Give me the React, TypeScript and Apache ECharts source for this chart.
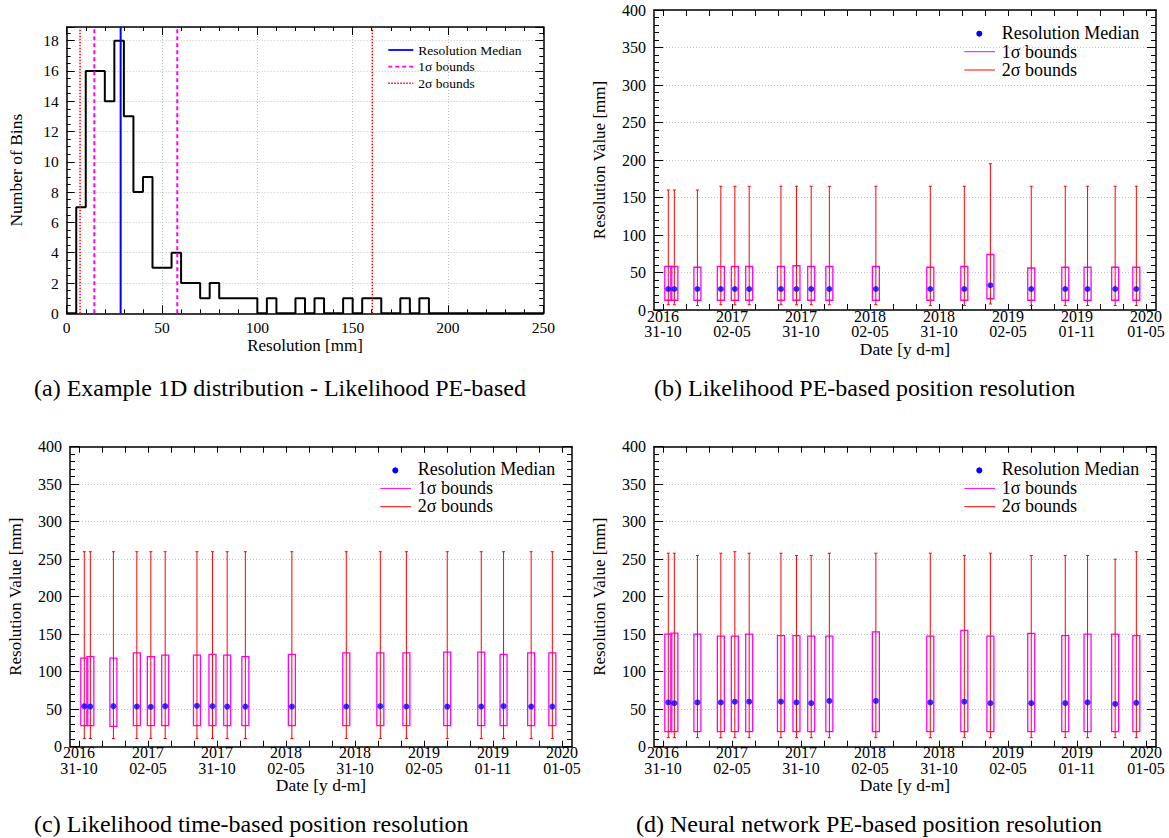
import React, { useEffect, useRef } from 'react';
import * as echarts from 'echarts';

const FONT = "'Liberation Serif', 'Times New Roman', Times, serif";

// ---------- Panel (a): 1D distribution ----------
const binWidth = 5;
const binCounts = [
  0, 7, 16, 16, 14, 18, 13, 8, 9, 3,
  3, 4, 2, 2, 1, 2, 1, 1, 1, 1,
  0, 1, 0, 0, 1, 0, 1, 0, 0, 1,
  0, 1, 1, 0, 0, 1, 0, 1, 0, 0,
  0, 0, 0, 0, 0, 0, 0, 0, 0, 0,
];
const markerNames = ['2σ bounds', '1σ bounds', 'Resolution Median', '1σ bounds', '2σ bounds'];
const markerValues = [7, 14.5, 28.3, 58, 160.3];
const legendANames = ['Resolution Median', '1σ bounds', '2σ bounds'];

// ---------- Panels (b)-(d): time series ----------
const measDates = [
  '2016-11-14', '2016-11-30', '2017-01-30', '2017-04-02', '2017-05-09', '2017-06-16',
  '2017-09-08', '2017-10-19', '2017-11-27', '2018-01-14', '2018-05-17', '2018-10-08',
  '2019-01-06', '2019-03-16', '2019-07-02', '2019-09-30', '2019-11-28', '2020-02-09', '2020-04-05',
];
const dateTickLabels = [
  '2016\n31-10', '2017\n02-05', '2017\n31-10', '2018\n02-05',
  '2018\n31-10', '2019\n02-05', '2019\n01-11', '2020\n01-05',
];

// (b) Likelihood PE-based
const bMedian = [28, 28, 28, 28, 28, 28, 28, 28, 28, 28, 28, 28, 28, 33, 28, 28, 28, 28, 28];
const bSig1Lo = [13, 13, 13, 13, 13, 13, 13, 13, 13, 13, 13, 13, 13, 15, 13, 13, 13, 13, 13];
const bSig1Hi = [58, 58, 57, 58, 58, 58, 58, 59, 58, 58, 58, 57, 58, 74, 56, 57, 57, 57, 57];
const bSig2Lo = [7, 7, 6, 7, 7, 7, 7, 7, 7, 7, 7, 6, 6, 8, 6, 6, 6, 6, 6];
const bSig2Hi = [160, 160, 160, 165, 165, 165, 165, 165, 165, 165, 165, 165, 165, 195, 165, 165, 165, 165, 165];

// (c) Likelihood time-based
const cMedian = [54, 53.5, 54, 53.5, 53, 54, 54.5, 54, 53.5, 53.5, 53.5, 53.5, 54, 53.5, 53.5, 53.5, 54, 53.5, 53.5];
const cSig1Lo = [28, 28, 27, 28, 28, 28, 28, 28, 28, 28, 28, 28, 28, 28, 28, 28, 28, 28, 28];
const cSig1Hi = [118, 120, 118, 125, 120, 122, 122, 123, 122, 120, 123, 125, 125, 125, 126, 126, 123, 125, 125];
const cSig2Lo = [11, 11, 11, 11, 11, 11, 11, 11, 11, 11, 11, 11, 11, 11, 11, 11, 11, 11, 11];
const cSig2Hi = [260, 260, 260, 260, 260, 260, 260, 260, 260, 260, 260, 260, 260, 260, 260, 260, 260, 260, 260];

// (d) Neural network PE-based
const dMedian = [59, 58, 59, 59, 60, 60, 60, 59, 58, 61, 61, 59, 60, 58, 58, 58, 59, 57, 58.5];
const dSig1Lo = [20, 20, 20, 20, 20, 20, 20, 20, 20, 20, 20, 20, 20, 20, 20, 20, 20, 20, 20];
const dSig1Hi = [150, 151.5, 150, 147.5, 147.5, 150, 148, 148, 147.5, 147.5, 153, 147.5, 155, 147.5, 151, 148, 150, 150, 148];
const dSig2Lo = [12, 12, 12, 12, 12, 12, 12, 12, 12, 12, 12, 12, 12, 12, 12, 12, 12, 12, 12];
const dSig2Hi = [258, 258, 255, 258, 260, 258, 258, 255, 255, 258, 258, 258, 255, 258, 255, 255, 255, 250, 260];

const captions = [
  '(a) Example 1D distribution - Likelihood PE-based',
  '(b) Likelihood PE-based position resolution',
  '(c) Likelihood time-based position resolution',
  '(d) Neural network PE-based position resolution',
];

// ---------- helpers ----------
const DAY = 86400000;
const T0 = Date.UTC(2016, 9, 31);
const HALF = 182.5 * DAY;
const X_MIN = T0 - 23.8 * DAY;
const X_MAX = T0 + 1304 * DAY;
const parseDate = (s: string) => {
  const [y, m, d] = s.split('-').map(Number);
  return Date.UTC(y, m - 1, d);
};
const labelTs = dateTickLabels.map((_, k) => T0 + k * HALF);
const tickTs: number[] = [];
for (let t = T0; t <= X_MAX; t += HALF / 3) tickTs.push(t);

const GRIDS = [
  { left: 66.7, top: 27, width: 476.6, height: 286.3 },
  { left: 654, top: 10, width: 502, height: 300 },
  { left: 70, top: 446.7, width: 502, height: 300 },
  { left: 654, top: 446.7, width: 502, height: 300 },
];

const BLACK = '#000';
const GRIDLINE = { show: true, lineStyle: { type: [1, 2] as any, color: '#c4c4c4', width: 1 } };

function buildOption() {
  const xAxis: any[] = [];
  const yAxis: any[] = [];
  const series: any[] = [];
  const graphic: any[] = [];

  // ----- panel (a) axes -----
  const axLine = { show: true, onZero: false, lineStyle: { color: BLACK, width: 1.5 } };
  const aX = {
    type: 'value', gridIndex: 0, min: 0, max: 250, interval: 50,
    axisLine: axLine,
    axisTick: { show: true, inside: true, length: 8, lineStyle: { color: BLACK } },
    minorTick: { show: true, splitNumber: 5, length: 4, lineStyle: { color: BLACK } },
  };
  xAxis.push({
    ...aX, position: 'bottom',
    name: 'Resolution [mm]', nameLocation: 'middle', nameGap: 24, nameMoveOverlap: false,
    nameTextStyle: { fontFamily: FONT, fontSize: 17, color: BLACK },
    axisLabel: { show: true, margin: 6, fontFamily: FONT, fontSize: 15.5, color: BLACK },
    splitLine: GRIDLINE,
  });
  xAxis.push({ ...aX, position: 'top', axisLabel: { show: false }, splitLine: { show: false } });
  const aY = {
    type: 'value', gridIndex: 0, min: 0, max: 18.9, interval: 2,
    axisLine: axLine,
    axisTick: { show: true, inside: true, length: 8, lineStyle: { color: BLACK } },
    minorTick: { show: true, splitNumber: 4, length: 4, lineStyle: { color: BLACK } },
  };
  yAxis.push({
    ...aY, position: 'left',
    name: 'Number of Bins', nameLocation: 'middle', nameGap: 42, nameRotate: 90, nameMoveOverlap: false,
    nameTextStyle: { fontFamily: FONT, fontSize: 17.5, color: BLACK },
    axisLabel: { show: true, margin: 8, showMaxLabel: false, fontFamily: FONT, fontSize: 15.5, color: BLACK },
    splitLine: GRIDLINE,
  });
  yAxis.push({ ...aY, position: 'right', axisLabel: { show: false }, splitLine: { show: false } });

  // ----- panel (a) series -----
  const histData: number[][] = binCounts.map((c, i) => [i * binWidth, c]);
  histData.push([binCounts.length * binWidth, 0]);
  series.push({
    type: 'line', name: 'Histogram', xAxisIndex: 0, yAxisIndex: 0, step: 'end',
    data: histData, symbol: 'none', lineStyle: { color: BLACK, width: 2 }, z: 3,
  });
  const markerStyle: Record<string, any> = {
    'Resolution Median': { color: '#0000ff', width: 2, type: 'solid' },
    '1σ bounds': { color: '#ff00ff', width: 2, type: [4, 3] },
    '2σ bounds': { color: '#ff0000', width: 1.5, type: [1.5, 1.5] },
  };
  markerValues.forEach((v, i) => {
    series.push({
      type: 'line', name: markerNames[i], xAxisIndex: 0, yAxisIndex: 0,
      data: [[v, 0], [v, 18.9]], symbol: 'none', lineStyle: markerStyle[markerNames[i]], z: 4,
    });
  });
  // legend (a)
  {
    const g = GRIDS[0];
    const rows = [23, 39.7, 56.3];
    legendANames.forEach((n, i) => {
      const st = markerStyle[n];
      graphic.push({
        type: 'line', shape: { x1: g.left + 321.6, y1: g.top + rows[i], x2: g.left + 346.6, y2: g.top + rows[i] },
        style: { stroke: st.color, lineWidth: st.width === 2 ? 1.8 : 1.5, lineDash: st.type === 'solid' ? null : st.type },
      });
      graphic.push({
        type: 'text', x: g.left + 351.6, y: g.top + rows[i],
        style: { text: n, fontFamily: FONT, fontSize: 13.5, fill: BLACK, align: 'left', verticalAlign: 'middle' },
      });
    });
  }

  // ----- panels (b)-(d) -----
  const panels = [
    { med: bMedian, s1l: bSig1Lo, s1h: bSig1Hi, s2l: bSig2Lo, s2h: bSig2Hi },
    { med: cMedian, s1l: cSig1Lo, s1h: cSig1Hi, s2l: cSig2Lo, s2h: cSig2Hi },
    { med: dMedian, s1l: dSig1Lo, s1h: dSig1Hi, s2l: dSig2Lo, s2h: dSig2Hi },
  ];
  const ts = measDates.map(parseDate);
  const fmt = (v: number) => {
    const k = Math.round((v - T0) / HALF);
    return dateTickLabels[k] ?? '';
  };

  panels.forEach((p, pi) => {
    const gi = pi + 1;
    const xi = xAxis.length;
    const yi = yAxis.length;
    const bx = {
      type: 'value', gridIndex: gi, min: X_MIN, max: X_MAX,
      axisLine: axLine,
      axisTick: { show: true, inside: true, length: 6, customValues: tickTs, lineStyle: { color: BLACK } },
      splitLine: { show: false },
    };
    xAxis.push({
      ...bx, position: 'bottom',
      name: 'Date [y d-m]', nameLocation: 'middle', nameGap: 30, nameMoveOverlap: false,
      nameTextStyle: { fontFamily: FONT, fontSize: 17.5, color: BLACK, lineHeight: 17 },
      axisLabel: {
        show: true, customValues: labelTs, formatter: fmt, margin: -1.5,
        fontFamily: FONT, fontSize: 16, lineHeight: 15.5, color: BLACK,
      },
    });
    xAxis.push({ ...bx, position: 'top', axisLabel: { show: false } });
    const by = {
      type: 'value', gridIndex: gi, min: 0, max: 400, interval: 50,
      axisLine: axLine,
      axisTick: { show: true, inside: true, length: 9, lineStyle: { color: BLACK } },
      minorTick: { show: true, splitNumber: 5, length: 5, lineStyle: { color: BLACK } },
    };
    yAxis.push({
      ...by, position: 'left',
      name: 'Resolution Value [mm]', nameLocation: 'middle', nameGap: 46, nameRotate: 90, nameMoveOverlap: false,
      nameTextStyle: { fontFamily: FONT, fontSize: 17, color: BLACK },
      axisLabel: { show: true, margin: 8, fontFamily: FONT, fontSize: 16, color: BLACK },
      splitLine: GRIDLINE,
    });
    yAxis.push({ ...by, position: 'right', axisLabel: { show: false }, splitLine: { show: false } });

    series.push({
      type: 'custom', name: '1σ bounds', xAxisIndex: xi, yAxisIndex: yi, clip: true, z: 2,
      itemStyle: { color: '#ff00ff' },
      data: ts.map((t, i) => [t, p.s1l[i], p.s1h[i]]),
      encode: { x: 0, y: [1, 2] },
      renderItem: (_params: any, api: any) => {
        const t = api.value(0);
        const lo = api.coord([t, api.value(1)]);
        const hi = api.coord([t, api.value(2)]);
        const hw = 3.5;
        return {
          type: 'rect',
          shape: { x: lo[0] - hw, y: hi[1], width: 2 * hw, height: lo[1] - hi[1] },
          style: { fill: 'none', stroke: '#ff00ff', lineWidth: 1.3 },
        };
      },
    });
    series.push({
      type: 'custom', name: '2σ bounds', xAxisIndex: xi, yAxisIndex: yi, clip: true, z: 3,
      itemStyle: { color: '#ff0000' },
      data: ts.map((t, i) => [t, p.s2l[i], p.s2h[i]]),
      encode: { x: 0, y: [1, 2] },
      renderItem: (_params: any, api: any) => {
        const t = api.value(0);
        const lo = api.coord([t, api.value(1)]);
        const hi = api.coord([t, api.value(2)]);
        const x = lo[0];
        const cap = 1.5;
        const st = { stroke: '#ff0000', lineWidth: 1 };
        return {
          type: 'group',
          children: [
            { type: 'line', shape: { x1: x, y1: lo[1], x2: x, y2: hi[1] }, style: st },
            { type: 'line', shape: { x1: x - cap, y1: lo[1], x2: x + cap, y2: lo[1] }, style: st },
            { type: 'line', shape: { x1: x - cap, y1: hi[1], x2: x + cap, y2: hi[1] }, style: st },
          ],
        };
      },
    });
    series.push({
      type: 'scatter', name: 'Resolution Median', xAxisIndex: xi, yAxisIndex: yi, z: 5,
      symbol: 'circle', symbolSize: 6, itemStyle: { color: '#0000ff' },
      data: ts.map((t, i) => [t, p.med[i]]),
    });

    // legend
    const g = GRIDS[gi];
    const rows = [22.5, 41.5, 59.7];
    graphic.push({
      type: 'circle', shape: { cx: g.left + 325.3, cy: g.top + 23.7, r: 3 }, style: { fill: '#0000ff' },
    });
    graphic.push({
      type: 'line', shape: { x1: g.left + 310.3, y1: g.top + 41.7, x2: g.left + 341, y2: g.top + 41.7 },
      style: { stroke: '#ff00ff', lineWidth: 1 },
    });
    graphic.push({
      type: 'line', shape: { x1: g.left + 310.3, y1: g.top + 60, x2: g.left + 341, y2: g.top + 60 },
      style: { stroke: '#ff0000', lineWidth: 1 },
    });
    legendANames.forEach((n, i) => {
      graphic.push({
        type: 'text', x: g.left + 347.7, y: g.top + rows[i],
        style: { text: n, fontFamily: FONT, fontSize: 18, fill: BLACK, align: 'left', verticalAlign: 'middle' },
      });
    });
  });

  // captions
  const capPos = [[34, 388], [654, 388], [34, 824], [636, 824]];
  captions.forEach((c, i) => {
    graphic.push({
      type: 'text', x: capPos[i][0], y: capPos[i][1],
      style: { text: c, fontFamily: FONT, fontSize: 24, fill: BLACK, align: 'left', verticalAlign: 'middle' },
    });
  });

  return {
    animation: false,
    backgroundColor: '#ffffff',
    grid: GRIDS.map((g) => ({ ...g, containLabel: false })),
    xAxis,
    yAxis,
    series,
    graphic,
  };
}

export default function App() {
  const ref = useRef<HTMLDivElement>(null);
  useEffect(() => {
    if (!ref.current) return;
    const chart = echarts.init(ref.current, null, { renderer: 'svg' });
    chart.setOption(buildOption() as any);
    return () => chart.dispose();
  }, []);
  return (
    <div
      ref={ref}
      style={{ position: 'absolute', left: 0, top: 0, width: 1169, height: 838, background: '#fff' }}
    />
  );
}
